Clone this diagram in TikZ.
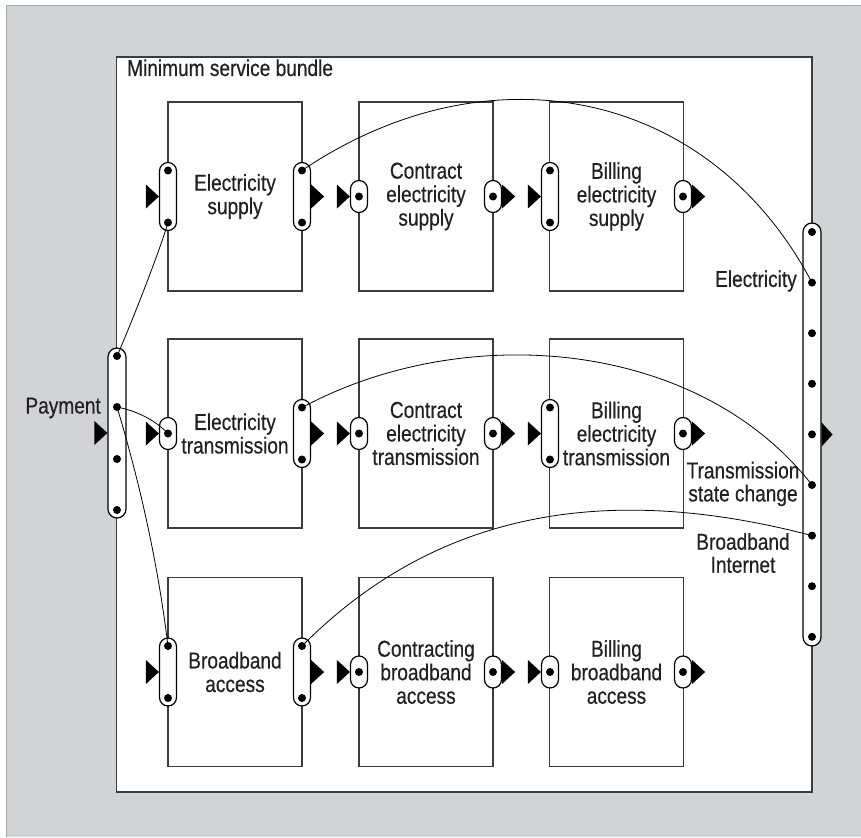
\documentclass[tikz,border=0pt]{standalone}
\usepackage{fontspec}
\setmainfont{Liberation Sans}[FakeStretch=0.83,FakeBold=0.4]
\usetikzlibrary{calc}
\definecolor{bggray}{HTML}{D1D3D4}
\definecolor{edgegray}{HTML}{A7A9AC}
\definecolor{linegray}{HTML}{3C3C3C}
\definecolor{txt}{HTML}{231F20}
\newcommand\portbig[3]{%
  \node[pillbig] (#1) at (#2,#3) {};
  \node[dotn] (#1a) at (#2,#3-26) {};
  \node[dotn] (#1b) at (#2,#3+26) {};}
\newcommand\portsmall[3]{%
  \node[pillsmall] (#1) at (#2,#3) {};
  \node[dotn] (#1a) at (#2,#3) {};}
\newcommand\trileft[1]{%
  \fill[black] ($(#1.west)+(-13,-12)$) -- (#1.west) -- ($(#1.west)+(-13,12)$) -- cycle;}
\newcommand\triright[1]{%
  \fill[black] ($(#1.east)+(0,-12)$) -- ($(#1.east)+(13,0)$) -- ($(#1.east)+(0,12)$) -- cycle;}
\begin{document}
\begin{tikzpicture}[x=1pt,y=-1pt,
  box/.style={draw=linegray,line width=1.2pt,fill=white,rectangle,minimum width=134pt,minimum height=189pt,inner sep=0pt,
    font=\fontsize{23}{23.5}\selectfont,text=txt,align=center},
  pillbig/.style={draw=black,line width=1.2pt,fill=white,rectangle,rounded corners=8.5pt,minimum width=17pt,minimum height=68pt,inner sep=0pt},
  pillsmall/.style={pillbig,minimum height=32pt},
  pilllong/.style={pillbig,minimum width=18pt,rounded corners=9pt},
  dotn/.style={circle,fill=black,inner sep=0pt,minimum size=8pt},
  lbl/.style={font=\fontsize{23}{23}\selectfont,text=txt,align=center,inner sep=0pt},
  wire/.style={draw=black,line width=0.8pt}
]
\useasboundingbox (0,0) rectangle (861,837);
% background
\fill[bggray] (6,6) rectangle (861,837);
\draw[edgegray,line width=1pt] (6,837) -- (6,6) -- (861,6);
% frame
\node[draw=linegray,line width=1.6pt,fill=white,rectangle,inner sep=0pt,
  minimum width=695.5pt,minimum height=735pt] (frame) at (464.25,424.5) {};
\node[lbl,anchor=base west] (title) at (127,76) {Minimum service bundle};
% boxes
\node[box] (b11) at (235,196.5) {Electricity\\supply};
\node[box] (b12) at (426,196.5) {Contract\\electricity\\supply};
\node[box] (b13) at (616.5,196.5) {Billing\\electricity\\supply};
\node[box] (b21) at (235,433.5) {Electricity\\transmission};
\node[box] (b22) at (426,433.5) {Contract\\electricity\\transmission};
\node[box] (b23) at (616.5,433.5) {Billing\\electricity\\transmission};
\node[box] (b31) at (235,672) {Broadband\\access};
\node[box] (b32) at (426,672) {Contracting\\broadband\\access};
\node[box] (b33) at (616.5,672) {Billing\\broadband\\access};
% ports row 1
\portbig{l11}{168}{196.5}
\portbig{r11}{302}{196.5}
\portsmall{l12}{359}{196.5}
\portsmall{r12}{493}{196.5}
\portbig{l13}{550}{196.5}
\portsmall{r13}{683}{196.5}
% ports row 2
\portsmall{l21}{168}{433.5}
\portbig{r21}{302}{433.5}
\portsmall{l22}{359}{433.5}
\portsmall{r22}{493}{433.5}
\portbig{l23}{550}{433.5}
\portsmall{r23}{683}{433.5}
% ports row 3
\portbig{l31}{168}{672}
\portbig{r31}{302}{672}
\portsmall{l32}{359}{672}
\portsmall{r32}{493}{672}
\portsmall{l33}{550}{672}
\portsmall{r33}{683}{672}
% payment bus
\node[pilllong,minimum height=170pt] (pay) at (117,433) {};
\node[dotn] (pay1) at (117,356) {};
\node[dotn] (pay2) at (117,407) {};
\node[dotn] (pay3) at (117,459) {};
\node[dotn] (pay4) at (117,510) {};
\node[lbl,anchor=east] (paylbl) at (101,408) {Payment};
% output bus
\node[pilllong,minimum height=423pt] (out) at (812,434.5) {};
\foreach \k in {1,...,9} {
  \node[dotn] (el\k) at (812,{232+50.6*(\k-1)}) {};
}
\node[lbl,anchor=east] (ellbl) at (797,281) {Electricity};
\node[lbl] (tslbl) at (743,484) {Transmission\\state change};
\node[lbl] (bilbl) at (743,553) {Broadband\\Internet};
% wires
\draw[wire] (pay1.center) .. controls (132,322) and (160,250) .. (l11b.center);
\draw[wire] (pay2.center) .. controls (137,411) and (155,420) .. (l21a.center);
\draw[wire] (pay2.center) .. controls (141,487) and (158,565) .. (l31a.center);
\draw[wire] (r11a.center) .. controls (486,46) and (708,86) .. (el2.center);
\draw[wire] (r21a.center) .. controls (465,320) and (698,339) .. (el6.center);
\draw[wire] (r31a.center) .. controls (443,504) and (619,485) .. (el7.center);
% triangles
\foreach \p in {l11,l12,l13,l21,l22,l23,l31,l32,l33,pay} {\trileft{\p}}
\foreach \p in {r11,r12,r13,r21,r22,r23,r31,r32,r33} {\triright{\p}}
\fill[black] ($(out.east)+(0,-12)$) -- ($(out.east)+(11,0)$) -- ($(out.east)+(0,12)$) -- cycle;
\end{tikzpicture}
\end{document}
